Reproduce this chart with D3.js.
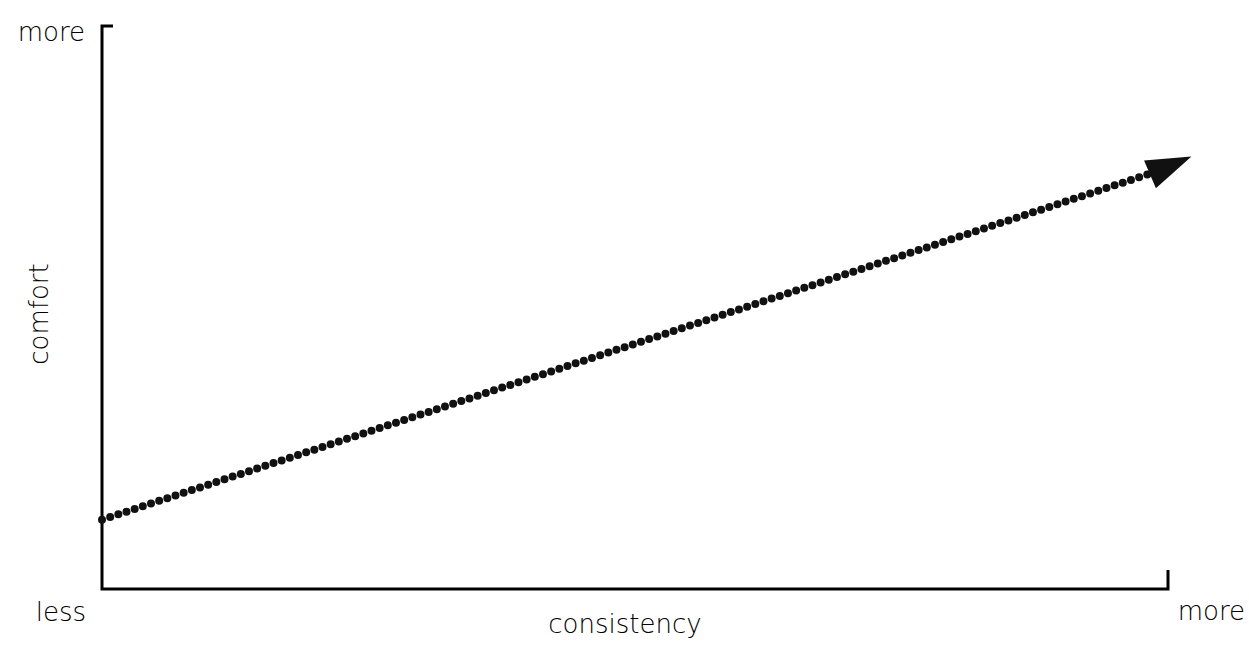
<!DOCTYPE html>
<html>
<head>
<meta charset="utf-8">
<script src="https://cdn.jsdelivr.net/npm/d3@7"></script>
<style>
  body { margin: 0; background: #fff; }
  text { font-family: "DejaVu Sans", sans-serif; font-weight: 200; fill: #000; }
</style>
</head>
<body>
<svg id="chart" width="1249" height="646"></svg>
<script>
// trend line: consistency (x) vs comfort (y), both 0 = less, 1 = more
var consistency = [0, 0.99],
    comfort = [0.123, 0.742],
    arrowTip = [1.022, 0.768];

var xLabels = ['less', 'more'],
    yLabels = ['more'],
    xTitle = 'consistency',
    yTitle = 'comfort';

var svg = d3.select('#chart'),
    x = d3.scaleLinear().domain([0, 1]).range([102, 1168]),
    y = d3.scaleLinear().domain([0, 1]).range([589, 26]);

// axes as an open frame
svg.append('path')
    .attr('d', 'M' + (x(0) + 11) + ',' + y(1) + 'H' + x(0) + 'V' + y(0) + 'H' + x(1) + 'V' + (y(0) - 19))
    .attr('fill', 'none')
    .attr('stroke', '#000')
    .attr('stroke-width', 3);

// dotted trend line
var pts = consistency.map(function (d, i) {return [x(d), y(comfort[i])]});
svg.append('path')
    .attr('d', d3.line()(pts))
    .attr('fill', 'none')
    .attr('stroke', '#111')
    .attr('stroke-width', 8)
    .attr('stroke-linecap', 'round')
    .attr('stroke-dasharray', '0,8.6');

// arrow head
var end = pts[1],
    tip = [x(arrowTip[0]), y(arrowTip[1])],
    ang = Math.atan2(tip[1] - end[1], tip[0] - end[0]),
    len = Math.hypot(tip[0] - end[0], tip[1] - end[1]) + 8,
    half = 15;
var base = [tip[0] - len * Math.cos(ang), tip[1] - len * Math.sin(ang)];
svg.append('path')
    .attr('d', d3.line()([
        tip,
        [base[0] + half * Math.sin(ang), base[1] - half * Math.cos(ang)],
        [base[0] - half * Math.sin(ang), base[1] + half * Math.cos(ang)]
    ]) + 'Z')
    .attr('fill', '#111');

// labels
var fs = 26;
svg.append('text')
    .attr('x', x(0) - 17).attr('y', y(1) + 15)
    .attr('text-anchor', 'end')
    .attr('font-size', fs)
    .text(yLabels[0]);

svg.append('text')
    .attr('x', x(0) - 16).attr('y', y(0) + 32)
    .attr('text-anchor', 'end')
    .attr('font-size', fs)
    .text(xLabels[0]);

svg.append('text')
    .attr('x', 1245).attr('y', y(0) + 31)
    .attr('text-anchor', 'end')
    .attr('font-size', fs)
    .text(xLabels[1]);

svg.append('text')
    .attr('x', 625).attr('y', y(0) + 44)
    .attr('text-anchor', 'middle')
    .attr('font-size', fs)
    .text(xTitle);

svg.append('text')
    .attr('transform', 'translate(48,314) rotate(-90)')
    .attr('text-anchor', 'middle')
    .attr('font-size', fs)
    .text(yTitle);
</script>
</body>
</html>
